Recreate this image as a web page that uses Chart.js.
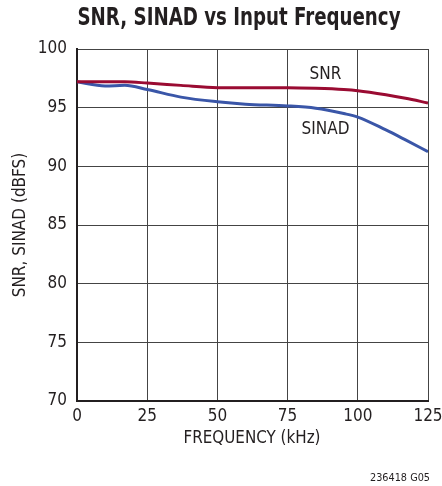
<!DOCTYPE html>
<html>
<head>
<meta charset="utf-8">
<script src="https://cdn.jsdelivr.net/npm/chart.js@4"></script>
<style>
  html, body { margin: 0; padding: 0; background: #fff; }
  #wrap { width: 442px; height: 486px; }
</style>
</head>
<body>
<div id="wrap"><canvas id="snrChart" width="442" height="486"></canvas></div>
<script>
const freqKHz = [0, 10, 17, 25, 37, 50, 60, 75, 85, 95, 100, 110, 117, 125];
const snrDb =   [97.2, 97.2, 97.2, 97.1, 96.9, 96.7, 96.7, 96.7, 96.65, 96.55, 96.45, 96.1, 95.8, 95.4];
const sinadDb = [97.2, 96.85, 96.9, 96.55, 95.9, 95.5, 95.3, 95.15, 94.95, 94.5, 94.2, 93.1, 92.25, 91.25];
const xTicks = [0, 25, 50, 75, 100, 125];
const yTicks = [70, 75, 80, 85, 90, 95, 100];

const FONT = "'Liberation Sans Narrow', 'DejaVu Sans Condensed', 'Liberation Sans', sans-serif";

// squeeze text horizontally to a given width (the original uses a condensed face)
function fitText(c, txt, cx, cy, w) {
    const m = c.measureText(txt).width;
    c.save();
    c.translate(cx, cy);
    c.scale(Math.min(1, w / m), 1);
    c.fillText(txt, 0, 0);
    c.restore();
}

const textPlugin = {
    id: 'texts',
    afterDraw(chart) {
        const c = chart.ctx;
        const x = chart.scales.x, y = chart.scales.y;
        const area = chart.chartArea;
        c.save();
        c.fillStyle = '#231f20';
        c.textAlign = 'center';
        c.textBaseline = 'middle';
        c.font = 'bold 24px ' + FONT;
        fitText(c, 'SNR, SINAD vs Input Frequency', 239, 19, 323);
        c.font = '17px ' + FONT;
        fitText(c, 'FREQUENCY (kHz)', 252, 439, 137);
        fitText(c, 'SNR', x.getPixelForValue(88.5), y.getPixelForValue(97.8), 32);
        fitText(c, 'SINAD', x.getPixelForValue(88.5), y.getPixelForValue(93.1), 50);
        c.save();
        c.translate(21, (area.top + area.bottom) / 2);
        c.rotate(-Math.PI / 2);
        fitText(c, 'SNR, SINAD (dBFS)', 0, 0, 152);
        c.restore();
        c.font = '11px ' + FONT;
        fitText(c, '236418 G05', 400, 478, 60);
        c.restore();
    }
};

const ctx = document.getElementById('snrChart');
new Chart(ctx, {
    type: 'line',
    data: {
        labels: freqKHz,
        datasets: [{
            label: 'SNR',
            data: freqKHz.map((f, i) => ({ x: f, y: snrDb[i] })),
            borderColor: '#9a0b32',
            borderWidth: 3,
            pointRadius: 0,
            cubicInterpolationMode: 'monotone'
        }, {
            label: 'SINAD',
            data: freqKHz.map((f, i) => ({ x: f, y: sinadDb[i] })),
            borderColor: '#3a56a8',
            borderWidth: 3,
            pointRadius: 0,
            cubicInterpolationMode: 'monotone'
        }]
    },
    options: {
        responsive: false,
        animation: false,
        layout: { padding: { left: 0, right: 14, top: 49, bottom: 35 } },
        plugins: { legend: { display: false }, tooltip: { enabled: false } },
        scales: {
            x: {
                type: 'linear',
                min: 0, max: 125,
                afterBuildTicks: s => { s.ticks = xTicks.map(v => ({ value: v })); },
                afterFit: s => { s.height = 50; s.paddingLeft = 0; s.paddingRight = 0; },
                grid: { color: '#444', lineWidth: 1, drawTicks: false },
                border: { color: '#231f20', width: 2 },
                ticks: { color: '#231f20', font: { family: FONT, size: 17 }, padding: 5, maxRotation: 0 }
            },
            y: {
                min: 70, max: 100,
                afterBuildTicks: s => { s.ticks = yTicks.map(v => ({ value: v })); },
                afterFit: s => { s.width = 77; s.paddingTop = 0; s.paddingBottom = 0; },
                grid: { color: '#444', lineWidth: 1, drawTicks: false },
                border: { color: '#231f20', width: 2 },
                ticks: { color: '#231f20', font: { family: FONT, size: 17 }, padding: 10 }
            }
        }
    },
    plugins: [textPlugin]
});
</script>
</body>
</html>
